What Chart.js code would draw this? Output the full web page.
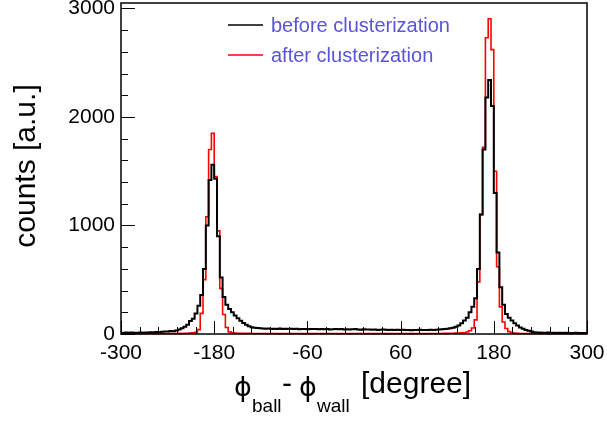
<!DOCTYPE html>
<html>
<head>
<meta charset="utf-8">
<script src="https://cdn.jsdelivr.net/npm/chart.js@4"></script>
<style>
  html, body { margin:0; padding:0; background:#fff; }
  #wrap { width:607px; height:421px; }
</style>
</head>
<body>
<div id="wrap"><canvas id="c" width="607" height="421"></canvas></div>
<script>
// histogram binning (bin low edges = BIN_START + i*BIN_WIDTH)
const BIN_START = -302.4;
const BIN_WIDTH = 3.6;

const beforeCounts = [
  10, 12,  9, 13, 11, 14, 12, 10, 13, 12,
  14, 13, 16, 15, 18, 17, 20, 22, 24, 27,
  25, 32, 42, 52, 66, 85, 120, 140, 190, 260,
  360, 600, 1000, 1420, 1560, 1430, 900, 520, 340, 270,
  230, 200, 170, 145, 122, 102, 86, 72, 62, 58,
  56, 52, 50, 48, 51, 47, 49, 46, 50, 47,
  48, 45, 49, 46, 48, 44, 47, 45, 43, 46,
  45, 47, 44, 46, 43, 45, 42, 44, 46, 43,
  45, 42, 44, 41, 43, 45, 42, 40, 43, 41,
  42, 39, 41, 38, 40, 42, 39, 37, 40, 38,
  39, 37, 40, 36, 38, 35, 38, 36, 39, 37,
  38, 36, 39, 37, 40, 41, 43, 45, 48, 52,
  58, 66, 78, 100, 125, 150, 200, 250, 330, 600,
  1100, 1700, 2180, 2340, 2100, 1300, 750, 430, 270, 185,
  150, 125, 100, 78, 60, 48, 38, 30, 22, 17,
  14, 13, 12, 11, 13, 10, 12, 10, 11, 10,
  11,  9, 10,  9, 11, 10,  9, 10
];

const afterCounts = [
  4, 3, 5, 3, 4, 3, 5, 4, 3, 4,
  4, 5, 4, 3, 5, 4, 5, 4, 5, 5,
  5, 4, 6, 5, 6, 7, 8, 10, 15, 40,
  190, 500, 1080, 1700, 1850, 1450, 950, 420, 180, 60,
  20, 12, 9, 7, 6, 6, 5, 6, 5, 5,
  4, 5, 4, 5, 3, 4, 5, 4, 3, 4,
  5, 4, 3, 4, 5, 4, 4, 3, 5, 4,
  4, 5, 4, 3, 4, 5, 4, 4, 5, 3,
  4, 4, 5, 3, 4, 4, 5, 4, 3, 4,
  5, 4, 3, 4, 4, 5, 3, 4, 4, 5,
  4, 3, 4, 5, 4, 3, 4, 4, 5, 4,
  3, 4, 5, 4, 4, 5, 5, 6, 6, 7,
  7, 8, 9, 10, 12, 18, 30, 55, 130, 480,
  1100, 1720, 2730, 2905, 2620, 1500, 620, 250, 110, 50,
  22, 12, 8, 6, 5, 5, 4, 5, 4, 4,
  4, 3, 4, 4, 3, 4, 3, 4, 3, 4,
  3, 4, 3, 4, 3, 3, 4, 3
];

const seriesLabels = ['before clusterization', 'after clusterization'];
const seriesColors = ['#000000', '#ff0000'];

const xTicks = [-300, -180, -60, 60, 180, 300];
const xMinorStep = 24;
const yTicks = [0, 1000, 2000, 3000];
const yMinorStep = 200;
const Y_MAX = 3050;

const FONT = "'Liberation Sans', Arial, Helvetica, sans-serif";
const PHI_FONT = "'DejaVu Sans', 'Liberation Sans', sans-serif";

// step outline: one point per low edge, plus the last high edge
const toSteps = (vals) => vals.map((v, i) => ({ x: BIN_START + i * BIN_WIDTH, y: v }))
  .concat([{ x: BIN_START + vals.length * BIN_WIDTH, y: vals[vals.length - 1] }]);

const rootAxes = {
  id: 'rootAxes',
  afterDatasetsDraw(chart) {
    const { ctx, chartArea: a, scales: { x, y } } = chart;
    ctx.save();

    // ticks inside the frame, ROOT style
    ctx.strokeStyle = '#000';
    ctx.lineWidth = 1;
    ctx.beginPath();
    for (let v = x.min; v <= x.max; v += xMinorStep) {
      const px = Math.round(x.getPixelForValue(v)) + 0.5;
      const len = xTicks.includes(v) ? 13 : 7;
      ctx.moveTo(px, a.bottom); ctx.lineTo(px, a.bottom - len);
    }
    for (let v = 0; v <= yTicks[yTicks.length - 1]; v += yMinorStep) {
      const py = Math.round(y.getPixelForValue(v)) + 0.5;
      const len = yTicks.includes(v) ? 14 : 7;
      ctx.moveTo(a.left, py); ctx.lineTo(a.left + len, py);
    }
    ctx.stroke();

    ctx.lineWidth = 1.5;
    ctx.strokeRect(a.left, a.top, a.right - a.left, a.bottom - a.top);

    // legend
    ctx.font = `20px ${FONT}`;
    ctx.textAlign = 'left';
    ctx.textBaseline = 'alphabetic';
    chart.data.datasets.forEach((ds, i) => {
      const ly = 25 + i * 30;
      ctx.strokeStyle = ds.borderColor;
      ctx.lineWidth = 1.5;
      ctx.beginPath(); ctx.moveTo(228, ly); ctx.lineTo(263, ly); ctx.stroke();
      ctx.fillStyle = '#5954d8';
      ctx.fillText(ds.label, 271, ly + 6.5);
    });

    // y title
    ctx.fillStyle = '#000';
    ctx.save();
    ctx.translate(35, 166);
    ctx.rotate(-Math.PI / 2);
    ctx.font = `30px ${FONT}`;
    ctx.textAlign = 'center';
    ctx.fillText('counts [a.u.]', 0, 0);
    ctx.restore();

    // x title: phi_ball - phi_wall [degree]
    const parts = [
      ['ϕ', 27, PHI_FONT, 234, 396], ['ball', 19, FONT, 252, 411.5], ['-', 30, FONT, 282, 393],
      ['ϕ', 27, PHI_FONT, 299, 396], ['wall', 19, FONT, 317, 411.5], ['[degree]', 30, FONT, 361, 393]
    ];
    ctx.textAlign = 'left';
    parts.forEach(([t, sz, fam, px, py]) => { ctx.font = `${sz}px ${fam}`; ctx.fillText(t, px, py); });

    ctx.restore();
  }
};

new Chart(document.getElementById('c'), {
  type: 'line',
  data: {
    datasets: [
      { label: seriesLabels[0], data: toSteps(beforeCounts), borderColor: seriesColors[0], borderWidth: 2,
        stepped: 'after', pointRadius: 0, fill: false, clip: { left: 0, right: 0, top: 5, bottom: 2 } },
      { label: seriesLabels[1], data: toSteps(afterCounts), borderColor: seriesColors[1], borderWidth: 1.6,
        stepped: 'after', pointRadius: 0, fill: false, clip: { left: 0, right: 0, top: 5, bottom: 2 } }
    ]
  },
  options: {
    responsive: false, animation: false,
    layout: { padding: { left: 0, top: 3, right: 20, bottom: 0 } },
    plugins: { legend: { display: false }, tooltip: { enabled: false } },
    scales: {
      x: {
        type: 'linear', min: -300, max: 300,
        grid: { display: false, drawTicks: false }, border: { display: false },
        afterBuildTicks: s => { s.ticks = xTicks.map(v => ({ value: v })); },
        afterFit: s => { s.height = 87; s.paddingLeft = 0; s.paddingRight = 0; },
        ticks: { font: { family: FONT, size: 21 }, color: '#000', padding: 7, maxRotation: 0, autoSkip: false,
          callback: v => String(v) }
      },
      y: {
        min: 0, max: Y_MAX,
        grid: { display: false, drawTicks: false }, border: { display: false },
        afterBuildTicks: s => { s.ticks = yTicks.map(v => ({ value: v })); },
        afterFit: s => { s.width = 121; s.paddingTop = 0; s.paddingBottom = 0; },
        ticks: { font: { family: FONT, size: 21 }, color: '#000', padding: 6, autoSkip: false,
          callback: v => String(v) }
      }
    }
  },
  plugins: [rootAxes]
});
</script>
</body>
</html>
